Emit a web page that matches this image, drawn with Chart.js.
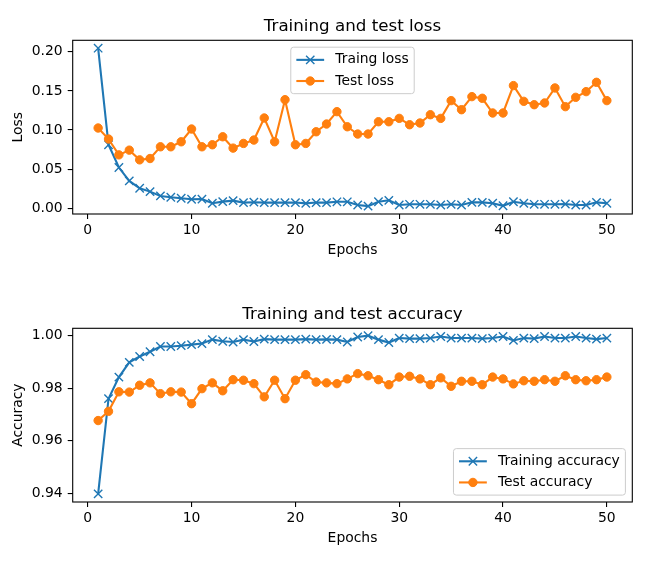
<!DOCTYPE html>
<html>
<head>
<meta charset="utf-8">
<script src="https://cdn.jsdelivr.net/npm/chart.js@4.4.1/dist/chart.umd.min.js"></script>
<style>
  html, body { margin: 0; padding: 0; background: #fff; }
  #wrap { position: relative; width: 655px; height: 565px; }
  canvas { position: absolute; left: 0; }
</style>
</head>
<body>
<div id="wrap">
  <canvas id="loss_chart" width="655" height="277" style="top:0px"></canvas>
  <canvas id="acc_chart" width="655" height="277" style="top:288px"></canvas>
</div>
<script>
// Epochs on the x axis
const epochs = [1, 2, 3, 4, 5, 6, 7, 8, 9, 10, 11, 12, 13, 14, 15, 16, 17, 18, 19, 20,
  21, 22, 23, 24, 25, 26, 27, 28, 29, 30, 31, 32, 33, 34, 35, 36, 37, 38, 39, 40,
  41, 42, 43, 44, 45, 46, 47, 48, 49, 50];

// Loss values
const trainLoss = [0.2046, 0.0812, 0.0521, 0.0350, 0.0256, 0.0213, 0.0158, 0.0141, 0.0128, 0.0116,
  0.0118, 0.0064, 0.0085, 0.0098, 0.0073, 0.0078, 0.0073, 0.0073, 0.0073, 0.0073,
  0.0063, 0.0073, 0.0073, 0.0083, 0.0083, 0.0042, 0.0028, 0.0084, 0.0102, 0.0042,
  0.0051, 0.0051, 0.0051, 0.0042, 0.0051, 0.0042, 0.0076, 0.0076, 0.0064, 0.0032,
  0.0084, 0.0064, 0.0051, 0.0051, 0.0051, 0.0055, 0.0042, 0.0042, 0.0076, 0.0064];
const testLoss = [0.1026, 0.0885, 0.0683, 0.0743, 0.0619, 0.0636, 0.0786, 0.0786, 0.0850, 0.1013,
  0.0786, 0.0812, 0.0914, 0.0769, 0.0829, 0.0872, 0.1154, 0.0850, 0.1388, 0.0812,
  0.0829, 0.0978, 0.1077, 0.1235, 0.1042, 0.0949, 0.0949, 0.1106, 0.1106, 0.1149,
  0.1068, 0.1090, 0.1196, 0.1149, 0.1376, 0.1260, 0.1427, 0.1406, 0.1218, 0.1218,
  0.1568, 0.1367, 0.1324, 0.1346, 0.1538, 0.1299, 0.1418, 0.1491, 0.1610, 0.1376];

// Accuracy values
const trainAcc = [0.9399, 0.9760, 0.9842, 0.9898, 0.9920, 0.9938, 0.9958, 0.9958, 0.9961, 0.9965,
  0.9969, 0.9984, 0.9978, 0.9975, 0.9984, 0.9977, 0.9986, 0.9984, 0.9984, 0.9984,
  0.9986, 0.9984, 0.9985, 0.9984, 0.9975, 0.9994, 0.9999, 0.9984, 0.9973, 0.9990,
  0.9988, 0.9988, 0.9990, 0.9996, 0.9990, 0.9990, 0.9990, 0.9988, 0.9990, 0.9996,
  0.9981, 0.9990, 0.9988, 0.9996, 0.9990, 0.9990, 0.9996, 0.9990, 0.9986, 0.9990];
const testAcc = [0.9677, 0.9712, 0.9786, 0.9785, 0.9811, 0.9820, 0.9779, 0.9786, 0.9785, 0.9741,
  0.9798, 0.9820, 0.9790, 0.9832, 0.9830, 0.9817, 0.9767, 0.9830, 0.9760, 0.9830,
  0.9851, 0.9823, 0.9820, 0.9817, 0.9835, 0.9855, 0.9847, 0.9832, 0.9813, 0.9842,
  0.9845, 0.9835, 0.9813, 0.9839, 0.9807, 0.9826, 0.9826, 0.9813, 0.9842, 0.9835,
  0.9816, 0.9828, 0.9826, 0.9832, 0.9826, 0.9847, 0.9832, 0.9828, 0.9832, 0.9842];

// Tick labels
const epochTicks = [0, 10, 20, 30, 40, 50];
const lossTicks = [0.00, 0.05, 0.10, 0.15, 0.20];
const accTicks = [0.94, 0.96, 0.98, 1.00];

const BLUE = '#1f77b4';
const ORANGE = '#ff7f0e';
const FONT = '"DejaVu Sans", sans-serif';

Chart.defaults.font.family = FONT;
Chart.defaults.color = '#000';

// Black box around the plot area (all four spines)
const frame = {
  id: 'frame',
  afterDatasetsDraw(chart) {
    const { ctx, chartArea: a } = chart;
    ctx.save();
    ctx.strokeStyle = '#000';
    ctx.lineWidth = 1.1;
    ctx.strokeRect(a.left, a.top, a.right - a.left, a.bottom - a.top);
    ctx.restore();
  }
};

// Title centred over the plot area, like matplotlib's set_title
const axesTitle = {
  id: 'axesTitle',
  afterDraw(chart, args, opts) {
    const { ctx, chartArea: a } = chart;
    ctx.save();
    ctx.font = '16.7px ' + FONT;
    ctx.fillStyle = '#000';
    ctx.textAlign = 'center';
    ctx.textBaseline = 'alphabetic';
    ctx.fillText(opts.text, (a.left + a.right) / 2, a.top - 9.6);
    ctx.restore();
  }
};

// Legend drawn inside the plot, matplotlib style
const boxLegend = {
  id: 'boxLegend',
  afterDraw(chart, args, opts) {
    const { ctx, chartArea: a } = chart;
    const fs = 13.9;
    const pad = 0.4 * fs, handle = 2 * fs, gap = 0.8 * fs, th = 14.2, ls = 0.5 * fs;
    const sets = chart.data.datasets;
    ctx.save();
    ctx.font = fs + 'px ' + FONT;
    const tw = Math.max(...sets.map(d => ctx.measureText(d.label).width));
    const w = pad * 2 + handle + gap + tw;
    const h = pad * 2 + sets.length * th + (sets.length - 1) * ls;
    let x, y;
    if (opts.loc === 'upper center') {
      x = (a.left + a.right) / 2 - w / 2;
      y = a.top + 6.9;
    } else {
      x = a.right - 6.9 - w;
      y = a.bottom - 6.9 - h;
    }
    ctx.beginPath();
    ctx.roundRect(x, y, w, h, 2.8);
    ctx.fillStyle = 'rgba(255,255,255,0.8)';
    ctx.fill();
    ctx.strokeStyle = '#cccccc';
    ctx.lineWidth = 1;
    ctx.stroke();
    sets.forEach((d, i) => {
      const cy = y + pad + th / 2 + i * (th + ls);
      const x0 = x + pad;
      ctx.strokeStyle = d.borderColor;
      ctx.lineWidth = d.borderWidth;
      ctx.beginPath();
      ctx.moveTo(x0, cy);
      ctx.lineTo(x0 + handle, cy);
      ctx.stroke();
      ctx.fillStyle = d.pointBackgroundColor;
      ctx.strokeStyle = d.pointBorderColor;
      ctx.lineWidth = d.pointBorderWidth;
      Chart.helpers.drawPoint(ctx, {
        pointStyle: d.pointStyle, radius: d.pointRadius, rotation: 0, borderWidth: d.pointBorderWidth
      }, x0 + handle / 2, cy);
      ctx.fillStyle = '#000';
      ctx.textBaseline = 'middle';
      ctx.textAlign = 'left';
      ctx.fillText(d.label, x0 + handle + gap, cy);
    });
    ctx.restore();
  }
};

function points(ys) {
  return epochs.map((e, i) => ({ x: e, y: ys[i] }));
}

function crossSeries(label, ys) {
  return {
    label: label,
    data: points(ys),
    borderColor: BLUE,
    backgroundColor: BLUE,
    borderWidth: 2.1,
    pointStyle: 'crossRot',
    pointRadius: 5.9,
    pointBorderWidth: 1.4,
    pointBackgroundColor: BLUE,
    pointBorderColor: BLUE,
    pointHoverRadius: 5.9,
    tension: 0,
    order: 1
  };
}

function dotSeries(label, ys) {
  return {
    label: label,
    data: points(ys),
    borderColor: ORANGE,
    backgroundColor: ORANGE,
    borderWidth: 2.1,
    pointStyle: 'circle',
    pointRadius: 4.2,
    pointBorderWidth: 1,
    pointBackgroundColor: ORANGE,
    pointBorderColor: ORANGE,
    pointHoverRadius: 4.2,
    tension: 0,
    order: 0
  };
}

function makeConfig(title, yLabel, yMin, yMax, yTicks, datasets, legendLoc) {
  return {
    type: 'line',
    data: { datasets: datasets },
    plugins: [frame, axesTitle, boxLegend],
    options: {
      responsive: false,
      animation: false,
      devicePixelRatio: 1,
      layout: { padding: { left: 0, right: 22.7, top: 40.3, bottom: 0 } },
      plugins: {
        legend: { display: false },
        tooltip: { enabled: false },
        title: { display: false },
        axesTitle: { text: title },
        boxLegend: { loc: legendLoc }
      },
      scales: {
        x: {
          type: 'linear',
          min: -1.45,
          max: 52.45,
          afterFit: s => { s.height = 63; },
          afterBuildTicks: s => { s.ticks = epochTicks.map(v => ({ value: v })); },
          grid: { display: true, drawOnChartArea: false, drawTicks: true, tickLength: 5, color: '#000', lineWidth: 1.1 },
          border: { display: false },
          ticks: { padding: 3, maxRotation: 0, font: { size: 13.9 }, color: '#000' },
          title: { display: true, text: 'Epochs', font: { size: 13.9 }, color: '#000', padding: { top: 0, bottom: 18.7 } }
        },
        y: {
          min: yMin,
          max: yMax,
          afterFit: s => { s.width = 72.7; },
          afterBuildTicks: s => { s.ticks = yTicks.map(v => ({ value: v })); },
          grid: { display: true, drawOnChartArea: false, drawTicks: true, tickLength: 5, color: '#000', lineWidth: 1.1 },
          border: { display: false },
          ticks: { padding: 5, font: { size: 13.9 }, color: '#000', callback: v => v.toFixed(2) },
          title: { display: true, text: yLabel, font: { size: 13.9 }, color: '#000', padding: { top: 10.2, bottom: 0 } }
        }
      }
    }
  };
}

const lossChart = new Chart(document.getElementById('loss_chart').getContext('2d'),
  makeConfig('Training and test loss', 'Loss', -0.0073, 0.2147, lossTicks,
    [crossSeries('Traing loss', trainLoss), dotSeries('Test loss', testLoss)], 'upper center'));

const accChart = new Chart(document.getElementById('acc_chart').getContext('2d'),
  makeConfig('Training and test accuracy', 'Accuracy', 0.9368, 1.0027, accTicks,
    [crossSeries('Training accuracy', trainAcc), dotSeries('Test accuracy', testAcc)], 'lower right'));
</script>
</body>
</html>
